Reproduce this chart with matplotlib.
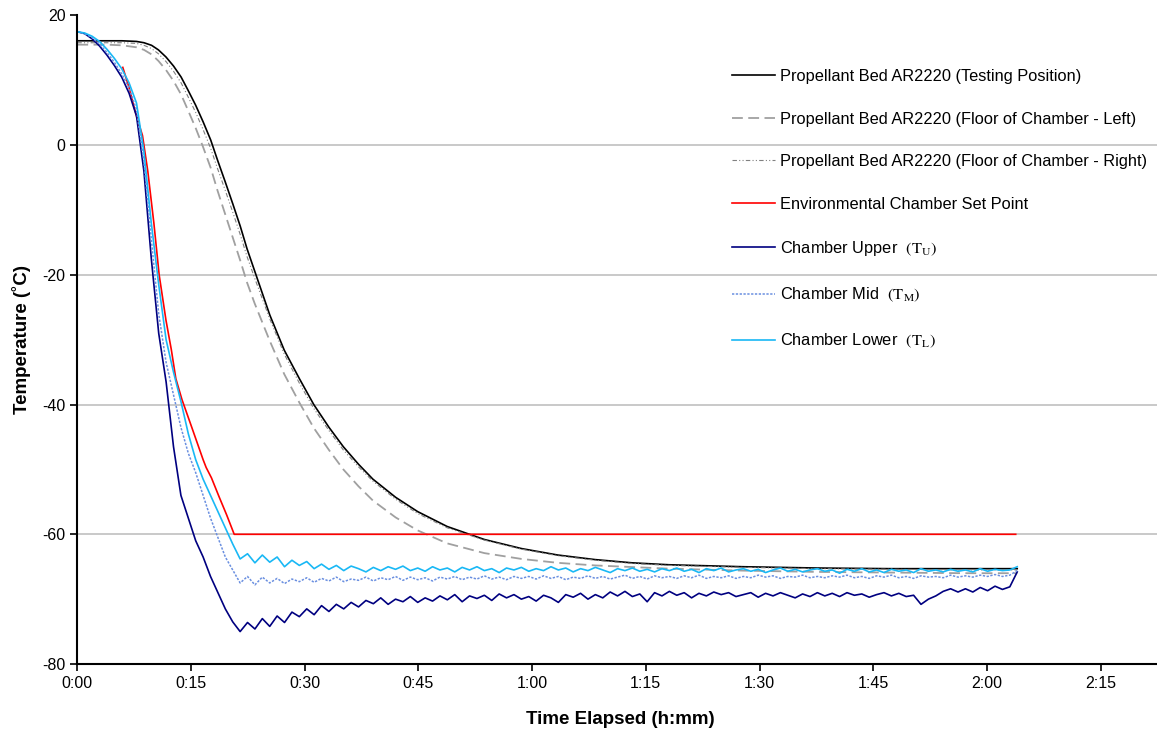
import numpy as np
import matplotlib
matplotlib.use('Agg')
import matplotlib.pyplot as plt

plt.rcParams['font.family'] = ['Liberation Sans', 'DejaVu Sans']
plt.rcParams['mathtext.fontset'] = 'stix'
plt.rcParams['axes.unicode_minus'] = False

# tempo em minutos
t_bed = [0, 2.0, 3.9, 5.9, 7.8, 8.8, 9.8, 10.7, 11.7, 12.7, 13.7, 14.6, 15.6, 16.6, 17.6, 18.5,
         19.5, 20.5, 21.5, 22.4, 23.4, 25.4, 27.3, 29.3, 31.2, 33.2, 35.1, 37.1, 39.0, 42.0,
         44.9, 48.8, 53.7, 58.6, 63.4, 68.3, 73.2, 78.1, 87.8, 97.6, 107.4, 117.1, 124.0]
bed_testing = [16.1, 16.1, 16.1, 16.1, 16.0, 15.8, 15.4, 14.7, 13.6, 12.2, 10.5, 8.5, 6.2, 3.6, 0.8,
               -2.3, -5.6, -9.0, -12.5, -16.0, -19.4, -26.2, -31.6, -36.0, -40.0, -43.5, -46.5, -49.2,
               -51.5, -54.3, -56.5, -58.8, -60.8, -62.2, -63.2, -63.9, -64.4, -64.7, -65.0, -65.2,
               -65.3, -65.3, -65.3]
bed_right = [15.8, 15.8, 15.8, 15.8, 15.7, 15.4, 14.9, 14.1, 12.9, 11.4, 9.6, 7.5, 5.1, 2.4, -0.5,
             -3.6, -6.9, -10.3, -13.8, -17.2, -20.5, -26.8, -32.2, -36.7, -40.6, -44.0, -47.0, -49.6,
             -51.8, -54.6, -56.8, -59.0, -60.9, -62.3, -63.3, -64.0, -64.5, -64.8, -65.1, -65.3,
             -65.4, -65.5, -65.5]

t_left = [0, 2.0, 3.9, 5.9, 7.8, 8.8, 9.8, 10.7, 11.7, 12.7, 13.7, 14.6, 15.6, 16.6, 17.6, 18.5,
          19.5, 20.5, 21.5, 22.4, 23.4, 25.4, 27.3, 29.3, 31.2, 33.2, 35.1, 37.1, 39.0, 42.0,
          44.9, 48.8, 53.7, 58.6, 63.4, 68.3, 78.1, 87.8, 97.6, 107.4, 117.1, 124.0]
bed_left = [15.5, 15.5, 15.5, 15.4, 15.1, 14.7, 14.0, 13.0, 11.6, 9.9, 7.8, 5.4, 2.7, -0.3, -3.5,
            -7.0, -10.6, -14.2, -17.8, -21.2, -24.4, -30.2, -35.3, -39.7, -43.6, -47.0, -50.0, -52.6,
            -54.8, -57.4, -59.4, -61.4, -62.9, -63.8, -64.4, -64.8, -65.3, -65.6, -65.8, -65.9,
            -66.0, -66.0]

t_set = [6.0, 6.8, 7.8, 8.6, 9.3, 10.1, 10.8, 11.7, 12.4, 13.0, 13.8, 15.1, 16.6, 17.0, 17.7,
         18.7, 19.7, 20.7, 123.8]
set_point = [12.0, 9.0, 4.5, 1.5, -4.0, -12.0, -20.0, -27.0, -31.5, -36.0, -39.2, -43.5, -48.5,
             -49.7, -51.3, -54.2, -57.0, -60.0, -60.0]

# leituras dos termopares da câmara (amostragem regular)
t_ch = np.linspace(0, 124, 128)
upper = [17.5, 17.2, 16.4, 15.3, 13.9, 12.3, 10.5, 8.0, 4.5, -4.0,
         -17.5, -29.0, -36.5, -46.5, -54.0, -57.5, -61.0, -63.5, -66.5, -69.0,
         -71.5, -73.5, -75.0, -73.6, -74.6, -73.0, -74.2, -72.6, -73.6, -72.0,
         -72.7, -71.5, -72.4, -71.0, -71.9, -70.8, -71.5, -70.5, -71.2, -70.2,
         -70.7, -69.8, -70.8, -70.0, -70.4, -69.6, -70.5, -69.8, -70.3, -69.5,
         -70.1, -69.3, -70.4, -69.5, -69.9, -69.4, -70.2, -69.2, -69.8, -69.3,
         -70.0, -69.6, -70.3, -69.4, -69.8, -70.5, -69.3, -69.7, -69.1, -70.0,
         -69.3, -69.8, -68.9, -69.5, -68.8, -69.6, -69.2, -70.4, -69.0, -69.5,
         -68.8, -69.4, -69.0, -69.8, -69.1, -69.5, -68.9, -69.3, -69.0, -69.6,
         -69.3, -69.0, -69.7, -69.1, -69.5, -69.0, -69.4, -69.8, -69.2, -69.6,
         -69.0, -69.5, -69.1, -69.6, -69.0, -69.4, -69.2, -69.7, -69.3, -69.0,
         -69.5, -69.1, -69.6, -69.4, -70.8, -70.0, -69.5, -68.8, -68.4, -68.9,
         -68.4, -68.9, -68.2, -68.7, -68.0, -68.5, -68.1, -65.8]
mid = [17.5, 17.2, 16.6, 15.6, 14.3, 12.8, 11.0, 8.8, 5.5, -2.5,
       -14.5, -26.0, -33.5, -38.5, -43.5, -47.5, -50.5, -54.0, -57.5, -60.5,
       -63.5, -65.5, -67.5, -66.5, -67.8, -66.6, -67.5, -66.8, -67.6, -66.9,
       -67.3, -66.7, -67.4, -66.8, -67.2, -66.6, -67.3, -66.9, -67.1, -66.6,
       -67.2, -66.7, -67.0, -66.5, -67.1, -66.6, -67.0, -66.7, -67.2, -66.6,
       -66.9, -66.5, -67.0, -66.6, -66.9, -66.4, -66.9, -66.6, -67.0, -66.5,
       -66.8, -66.5, -66.9, -66.4, -66.8, -66.5, -67.0, -66.6, -66.8, -66.4,
       -66.8, -66.5, -66.9, -66.6, -66.3, -66.8, -66.5, -66.9, -66.4, -66.7,
       -66.5, -66.8, -66.4, -66.7, -66.3, -66.8, -66.5, -66.7, -66.4, -66.8,
       -66.5, -66.7, -66.3, -66.6, -66.4, -66.8, -66.5, -66.6, -66.3, -66.7,
       -66.5, -66.7, -66.4, -66.6, -66.3, -66.7, -66.5, -66.8, -66.4, -66.6,
       -66.3, -66.7, -66.5, -66.8, -66.4, -66.6, -66.5, -66.7, -66.3, -66.6,
       -66.4, -66.6, -66.3, -66.5, -66.2, -66.5, -66.3, -65.6]
lower = [17.5, 17.3, 16.8, 16.0, 14.8, 13.4, 11.8, 9.6, 6.5, -1.0,
         -12.0, -21.5, -30.0, -35.0, -39.5, -44.5, -48.5, -51.5, -54.0, -56.5,
         -59.0, -61.5, -63.8, -63.0, -64.4, -63.2, -64.3, -63.5, -65.0, -64.0,
         -64.8, -64.2, -65.3, -64.6, -65.4, -64.8, -65.6, -64.9, -65.3, -65.8,
         -65.1, -65.6, -65.0, -65.4, -64.9, -65.6, -65.2, -65.7, -65.0, -65.5,
         -65.2, -65.8, -65.1, -65.5, -65.0, -65.6, -65.3, -65.9, -65.2, -65.5,
         -65.1, -65.7, -65.3, -65.6, -65.0, -65.5, -65.2, -65.8, -65.3, -65.6,
         -65.1, -65.5, -65.9, -65.3, -65.6, -65.2, -65.7, -65.4, -65.8, -65.3,
         -65.6, -65.2, -65.7, -65.4, -65.9, -65.3, -65.6, -65.2, -65.8, -65.5,
         -65.3, -65.7, -65.4, -65.9, -65.5, -65.2, -65.7, -65.4, -65.8, -65.5,
         -65.3, -65.7, -65.5, -66.0, -65.4, -65.7, -65.3, -65.8, -65.5, -65.9,
         -65.4, -65.7, -65.5, -65.9, -65.3, -65.7, -65.5, -65.8, -65.4, -65.7,
         -65.5, -65.8, -65.3, -65.7, -65.4, -65.6, -65.5, -65.0]

xticks = [0, 15, 30, 45, 60, 75, 90, 105, 120, 135]
xlabels = ['0:00', '0:15', '0:30', '0:45', '1:00', '1:15', '1:30', '1:45', '2:00', '2:15']

fig = plt.figure(figsize=(11.57, 7.36), dpi=100)
ax = fig.add_axes([77.3/1157, 1 - 664/736, (1157 - 77.3)/1157, (664 - 15.5)/736])

ax.plot(t_bed, bed_testing, color='black', lw=1.2, label='Propellant Bed AR2220 (Testing Position)')
ax.plot(t_left, bed_left, color='#a0a0a0', lw=1.3, dashes=(6, 3),
        label='Propellant Bed AR2220 (Floor of Chamber - Left)')
ax.plot(t_bed, bed_right, color='#808080', lw=0.8, dashes=(4, 2, 1, 2, 1, 2),
        label='Propellant Bed AR2220 (Floor of Chamber - Right)')
ax.plot(t_set, set_point, color='#ff0000', lw=1.2, label='Environmental Chamber Set Point')
ax.plot(t_ch, upper, color='#000080', lw=1.2, label=r'Chamber Upper  $\mathrm{(T_U)}$')
ax.plot(t_ch, mid, color='#6a8fe0', lw=1.1, dashes=(1.5, 1),
        label=r'Chamber Mid  $\mathrm{(T_M)}$')
ax.plot(t_ch, lower, color='#19b8f5', lw=1.2, label=r'Chamber Lower  $\mathrm{(T_L)}$')

ax.set_xlim(0, (1157 - 77.3) / 7.58)
ax.set_ylim(-80, 20)
ax.set_yticks([20, 0, -20, -40, -60, -80])
ax.set_xticks(xticks)
ax.set_xticklabels(xlabels)
ax.grid(axis='y', color='#c0c0c0', lw=1.2)
ax.set_axisbelow(True)
for s in ['top', 'right']:
    ax.spines[s].set_visible(False)
for s in ['left', 'bottom']:
    ax.spines[s].set_linewidth(1.5)
ax.tick_params(labelsize=11.5, length=5, width=1.2, direction='out')

fig.text(22/1157, 1 - 340/736, 'Temperature (˚C)', rotation=90, fontsize=13.5,
         fontweight='bold', ha='center', va='center')
fig.text(620/1157, 1 - 719/736, 'Time Elapsed (h:mm)', fontsize=13.5,
         fontweight='bold', ha='center', va='center')

ax.legend(loc='upper left', bbox_to_anchor=(732/1157, 1 - 69/736),
          bbox_transform=fig.transFigure, frameon=False, fontsize=11.8,
          handlelength=2.62, handletextpad=0.3, labelspacing=1.68, borderpad=0,
          borderaxespad=0)

fig.savefig('out.png', dpi=100)
